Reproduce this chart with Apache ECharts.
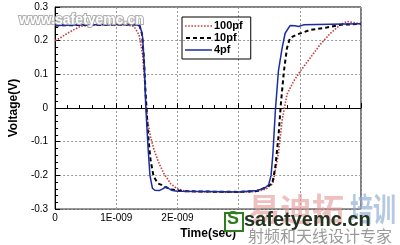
<!DOCTYPE html>
<html>
<head>
<meta charset="utf-8">
<script src="https://cdn.jsdelivr.net/npm/echarts@6/dist/echarts.min.js"></script>
<style>html,body{margin:0;padding:0;background:#fff}#c{width:400px;height:245px}</style>
</head>
<body>
<div id="c"></div>
<script>
// time in ns (axis labelled in seconds), voltage in V
var seriesNames = ['100pf', '10pf', '4pf'];
var xTickLabels = ['0', '1E-009', '2E-009', '', '', ''];   // 3E-009.. hidden under watermark in original
var t100 = [0, 0.1, 0.2, 0.3, 0.42, 0.6, 1.0, 1.2, 1.29, 1.37, 1.43, 1.47, 1.51, 1.56, 1.62, 1.7, 1.78, 1.89, 2.0, 2.13, 2.5, 3.0, 3.3, 3.45, 3.56, 3.65, 3.71, 3.79, 3.9, 4.01, 4.17, 4.33, 4.5, 4.66, 4.77, 4.93, 5.0];
var v100 = [0.2, 0.21, 0.222, 0.232, 0.243, 0.246, 0.247, 0.246, 0.242, 0.218, 0.159, 0.061, -0.037, -0.086, -0.126, -0.165, -0.195, -0.225, -0.24, -0.247, -0.249, -0.25, -0.248, -0.24, -0.224, -0.135, -0.037, 0.041, 0.08, 0.11, 0.149, 0.188, 0.222, 0.247, 0.257, 0.252, 0.25];
var t10 = [0, 0.5, 1.0, 1.3, 1.38, 1.42, 1.45, 1.48, 1.52, 1.56, 1.61, 1.68, 1.74, 1.78, 1.85, 1.9, 2.1, 2.5, 3.0, 3.3, 3.45, 3.55, 3.6, 3.65, 3.69, 3.74, 3.79, 3.84, 3.95, 4.17, 4.44, 4.66, 5.0];
var v10 = [0.245, 0.247, 0.248, 0.248, 0.245, 0.22, 0.15, 0.04, -0.08, -0.155, -0.203, -0.224, -0.228, -0.233, -0.238, -0.242, -0.247, -0.248, -0.249, -0.246, -0.235, -0.224, -0.175, -0.086, 0.012, 0.11, 0.178, 0.208, 0.218, 0.232, 0.239, 0.247, 0.25];
var t4 = [0, 0.5, 1.0, 1.3, 1.37, 1.41, 1.43, 1.46, 1.48, 1.52, 1.55, 1.59, 1.63, 1.7, 1.76, 1.81, 1.86, 1.92, 2.0, 2.5, 3.0, 3.3, 3.42, 3.49, 3.53, 3.56, 3.6, 3.65, 3.71, 3.76, 3.84, 3.92, 3.98, 4.06, 4.5, 5.0];
var v4 = [0.245, 0.247, 0.248, 0.248, 0.245, 0.23, 0.21, 0.12, 0.01, -0.12, -0.2, -0.238, -0.244, -0.245, -0.24, -0.233, -0.239, -0.245, -0.247, -0.248, -0.249, -0.245, -0.238, -0.228, -0.2, -0.135, -0.008, 0.11, 0.178, 0.222, 0.245, 0.244, 0.242, 0.247, 0.249, 0.25];

function pairs(t, v) { return t.map(function (x, i) { return [x, v[i]]; }); }
// legend sample icons: dashed strokes drawn as a path of small rectangles
function dashIcon(on, off, total, h) {
  var p = 'path://', x = 0;
  while (x < total) { var w = Math.min(on, total - x); p += 'M' + x + ',0h' + w + 'v' + h + 'h-' + w + 'z'; x += on + off; }
  return p;
}
var FONT = '"Liberation Sans", Arial, sans-serif';
var C100 = '#c83c3c', C10 = '#000', C4 = '#1c2ca0';
var chart = echarts.init(document.getElementById('c'), null, {renderer: 'canvas'});
chart.setOption({
  animation: false,
  backgroundColor: '#fff',
  grid: {left: 54, right: 39, top: 7, bottom: 34, show: true, borderColor: '#000', borderWidth: 1},
  legend: {
    data: [
      {name: seriesNames[0], icon: dashIcon(1.5, 1.5, 27, 1.5)},
      {name: seriesNames[1], icon: dashIcon(4, 3, 27, 2)},
      {name: seriesNames[2], icon: 'path://M0,0h27v1.5h-27z'}
    ],
    orient: 'vertical', left: 182, top: 17,
    itemWidth: 27, itemHeight: 2, itemGap: 0, padding: [3, 8, 3, 3],
    borderColor: '#000', borderWidth: 1,
    textStyle: {fontFamily: FONT, fontSize: 11, fontWeight: 'bold', color: '#000', padding: [0, 0, 0, -3], lineHeight: 12}
  },
  xAxis: {
    type: 'value', min: 0, max: 5, interval: 1,
    name: 'Time(sec)', nameLocation: 'middle', nameGap: 17,
    nameTextStyle: {fontFamily: FONT, fontSize: 12, fontWeight: 'bold', color: '#000'},
    axisLine: {lineStyle: {color: '#000'}},
    axisTick: {inside: true, length: 5, lineStyle: {color: '#000'}},
    minorTick: {show: true, splitNumber: 5, length: 3, lineStyle: {color: '#000'}},
    axisLabel: {fontFamily: FONT, fontSize: 10, color: '#000', margin: 4,
      formatter: function (v) { return xTickLabels[Math.round(v)]; }},
    splitLine: {show: true, lineStyle: {color: '#999', type: [2, 2]}}
  },
  yAxis: {
    type: 'value', min: -0.3, max: 0.3, interval: 0.1,
    name: 'Voltage(V)', nameLocation: 'middle', nameGap: 22, nameRotate: 90,
    nameTextStyle: {fontFamily: FONT, fontSize: 12, fontWeight: 'bold', color: '#000'},
    axisLine: {lineStyle: {color: '#000'}},
    axisTick: {inside: true, length: 5, lineStyle: {color: '#000'}},
    minorTick: {show: true, splitNumber: 5, length: 3, lineStyle: {color: '#000'}},
    axisLabel: {fontFamily: FONT, fontSize: 10, color: '#000', margin: 7,
      formatter: function (v) { var r = Math.round(v * 10) / 10; return r === 0 ? '0' : String(r); }},
    splitLine: {show: true, lineStyle: {color: '#999', type: [2, 2]}}
  },
  series: [
    {name: seriesNames[0], type: 'line', data: pairs(t100, v100), symbol: 'none', z: 2,
     lineStyle: {color: C100, width: 1.6, type: [1.5, 1.5]}, itemStyle: {color: C100}},
    {name: seriesNames[1], type: 'line', data: pairs(t10, v10), symbol: 'none', z: 3,
     lineStyle: {color: C10, width: 2, type: [4, 3]}, itemStyle: {color: C10}},
    {name: seriesNames[2], type: 'line', data: pairs(t4, v4), symbol: 'none', z: 4,
     lineStyle: {color: C4, width: 1.5}, itemStyle: {color: C4}}
  ],
  graphic: [
    {type: 'text', left: 18, top: 12, z: 100, style: {text: 'www.safetyemc.cn', font: 'bold 14px ' + FONT,
      fill: '#fff', stroke: '#b0b0b0', lineWidth: 2}},
    {type: 'text', left: 248, top: 193, z: 99, style: {text: '易迪拓', font: 'bold 32px "Noto Sans CJK SC"', fill: 'rgba(228,150,150,0.6)'}},
    {type: 'text', left: 350, top: 193, z: 99, scaleX: 0.72, style: {text: '培训', font: 'bold 32px "Noto Sans CJK SC"', fill: 'rgba(150,176,214,0.7)'}},
    {type: 'rect', left: 224, top: 212, z: 100, shape: {width: 18, height: 18},
      style: {fill: '#fff', stroke: '#2f7d1e', lineWidth: 2}},
    {type: 'text', left: 227, top: 210, z: 101, style: {text: 'S', font: 'bold 18px ' + FONT, fill: '#2f7d1e'}},
    {type: 'text', left: 244, top: 210, z: 101, style: {text: 'safetyemc.cn', font: 'bold 20px ' + FONT, fill: '#223322'}},
    {type: 'text', left: 248, top: 228, z: 101, style: {text: '射频和天线设计专家', font: '16px "Noto Sans CJK SC"', fill: '#9a9a9a'}}
  ]
});
</script>
</body>
</html>
